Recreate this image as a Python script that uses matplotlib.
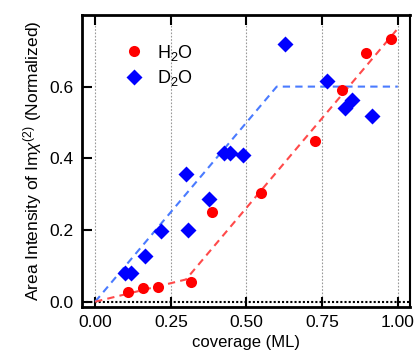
import matplotlib.pyplot as plt

plt.rcParams['font.family'] = ['Liberation Sans', 'DejaVu Sans']
plt.rcParams['mathtext.fontset'] = 'custom'
plt.rcParams['mathtext.rm'] = 'Liberation Sans'
plt.rcParams['mathtext.it'] = 'Liberation Sans:italic'

# H2O data
h2o_x = [0.108, 0.157, 0.209, 0.317, 0.387, 0.548, 0.727, 0.817, 0.896, 0.976]
h2o_y = [0.028, 0.037, 0.042, 0.055, 0.251, 0.302, 0.449, 0.590, 0.695, 0.733]

# D2O data
d2o_x = [0.097, 0.119, 0.165, 0.218, 0.308, 0.300, 0.377, 0.425, 0.447, 0.487,
         0.628, 0.767, 0.847, 0.827, 0.916]
d2o_y = [0.079, 0.079, 0.127, 0.198, 0.200, 0.356, 0.286, 0.414, 0.414, 0.409,
         0.718, 0.616, 0.564, 0.539, 0.518]

# piecewise fits
h2o_fit_x = [0.0, 0.30, 1.0]
h2o_fit_y = [0.0, 0.062, 0.762]
d2o_fit_x = [0.0, 0.60, 1.0]
d2o_fit_y = [0.0, 0.60, 0.60]

fig = plt.figure(figsize=(4.17, 3.55), dpi=100)
ax = fig.add_axes([0.197, 0.135, 0.786, 0.823])

for xv in [0, 0.25, 0.5, 0.75, 1.0]:
    ax.axvline(xv, color='#999999', lw=0.8, ls=(0, (1.5, 1.5)), zorder=0)
ax.axhline(0, color='black', lw=1.5, ls=(0, (1, 1)), zorder=1)

ax.plot(d2o_fit_x, d2o_fit_y, color='#4a7bff', lw=1.5, ls=(0, (3.5, 2.5)), zorder=2)
ax.plot(h2o_fit_x, h2o_fit_y, color='#ff4a4a', lw=1.5, ls=(0, (3.5, 2.5)), zorder=2)

ax.plot(h2o_x, h2o_y, 'o', color='#ff0000', ms=8, mec='none', label='H$_2$O', zorder=3)
ax.plot(d2o_x, d2o_y, 'D', color='#0000ff', ms=8.5, mec='none', label='D$_2$O', zorder=3)

ax.set_xlim(-0.043, 1.04)
ax.set_ylim(-0.015, 0.80)
ax.set_xticks([0, 0.25, 0.5, 0.75, 1.0])
ax.set_xticklabels(['0.00', '0.25', '0.50', '0.75', '1.00'])
ax.set_yticks([0, 0.2, 0.4, 0.6])
ax.set_yticklabels(['0.0', '0.2', '0.4', '0.6'])
ax.tick_params(axis='both', direction='in', length=7, width=1.5, labelsize=12.5, pad=6)
ax.tick_params(axis='x', top=True)

for side in ['left', 'bottom', 'top']:
    ax.spines[side].set_linewidth(2)
ax.spines['right'].set_linewidth(1.5)

ax.set_xlabel('coverage (ML)', fontsize=12, labelpad=3)
ax.set_ylabel(r'Area Intensity of Im$\chi^{(2)}$ (Normalized)', fontsize=12.5, labelpad=4)

ax.legend(loc='upper left', bbox_to_anchor=(0.08, 0.93), frameon=False, fontsize=13,
          handletextpad=0.3, labelspacing=0.3, borderaxespad=0)

fig.savefig('out.png', dpi=100)
